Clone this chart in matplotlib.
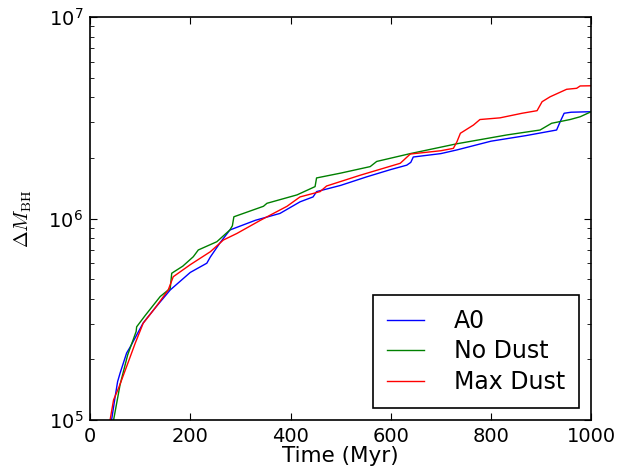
import matplotlib
matplotlib.use('Agg')
import matplotlib.pyplot as plt

# values
t_a0 = [43, 50, 55, 60, 73, 80, 106, 130, 160, 200, 233, 240, 259, 279, 330, 379,
        419, 445, 452, 500, 552, 600, 632, 640, 645, 700, 732, 800, 870, 931, 938,
        946, 960, 1000]
m_a0 = [1.0e5, 1.3e5, 1.55e5, 1.71e5, 2.15e5, 2.3e5, 3.03e5, 3.6e5, 4.42e5, 5.4e5,
        6.0e5, 6.44e5, 7.55e5, 8.77e5, 9.8e5, 1.06e6, 1.21e6, 1.28e6, 1.36e6, 1.46e6,
        1.61e6, 1.75e6, 1.84e6, 1.9e6, 2.02e6, 2.1e6, 2.19e6, 2.42e6, 2.58e6, 2.75e6,
        3.02e6, 3.33e6, 3.37e6, 3.39e6]

t_nodust = [47, 60, 75, 92, 93, 110, 140, 160, 163, 185, 206, 216, 253, 279, 284,
            287, 346, 353, 413, 449, 452, 500, 559, 572, 639, 732, 832, 898, 921,
            958, 978, 1000]
m_nodust = [1.0e5, 1.5e5, 2.1e5, 2.75e5, 2.9e5, 3.3e5, 4.1e5, 4.5e5, 5.35e5, 5.8e5,
            6.46e5, 6.98e5, 7.67e5, 8.77e5, 9.2e5, 1.02e6, 1.15e6, 1.19e6, 1.31e6,
            1.44e6, 1.59e6, 1.68e6, 1.81e6, 1.92e6, 2.1e6, 2.35e6, 2.6e6, 2.75e6,
            2.97e6, 3.1e6, 3.2e6, 3.39e6]

t_maxdust = [40, 47, 57, 75, 90, 106, 130, 156, 166, 200, 240, 266, 293, 340, 393,
             419, 459, 472, 539, 619, 639, 700, 725, 732, 739, 765, 778, 818, 862,
             892, 902, 918, 951, 971, 978, 1000]
m_maxdust = [1.0e5, 1.26e5, 1.44e5, 1.9e5, 2.4e5, 3.02e5, 3.6e5, 4.42e5, 5.14e5,
             5.9e5, 6.84e5, 7.82e5, 8.43e5, 9.8e5, 1.15e6, 1.28e6, 1.36e6, 1.45e6,
             1.64e6, 1.88e6, 2.09e6, 2.17e6, 2.23e6, 2.4e6, 2.65e6, 2.91e6, 3.1e6,
             3.16e6, 3.33e6, 3.43e6, 3.8e6, 4.02e6, 4.38e6, 4.43e6, 4.55e6, 4.56e6]

plt.rcParams['font.family'] = 'DejaVu Sans'
plt.rcParams['font.size'] = 14
plt.rcParams['mathtext.fontset'] = 'cm'

fig = plt.figure(figsize=(6.21, 4.74), dpi=100)
ax = fig.add_axes([0.145, 0.114, 0.807, 0.85])

ax.plot(t_a0, m_a0, color='b', lw=1, label='A0')
ax.plot(t_nodust, m_nodust, color='g', lw=1, label='No Dust')
ax.plot(t_maxdust, m_maxdust, color='r', lw=1, label='Max Dust')

ax.set_yscale('log')
ax.set_xlim(0, 1000)
ax.set_ylim(1e5, 1e7)
ax.set_xticks([0, 200, 400, 600, 800, 1000])
ax.set_xlabel('Time (Myr)', fontsize=15.5, labelpad=0)
ax.set_ylabel(r'$\Delta M_{\rm BH}$', fontsize=14.5, labelpad=10)

ax.tick_params(which='both', direction='in', top=True, right=True)
ax.tick_params(which='major', length=5, width=0.8, pad=5)
ax.tick_params(which='minor', length=3, width=0.6)
for s in ax.spines.values():
    s.set_linewidth(1.2)

leg = ax.legend(loc='lower right', fancybox=False, framealpha=1, fontsize=17,
                borderaxespad=0.5, handlelength=1.6, handletextpad=1.25,
                labelspacing=0.28, borderpad=0.6)
leg.get_frame().set_edgecolor('black')
leg.get_frame().set_linewidth(1.2)

plt.savefig('out.png', dpi=100)
